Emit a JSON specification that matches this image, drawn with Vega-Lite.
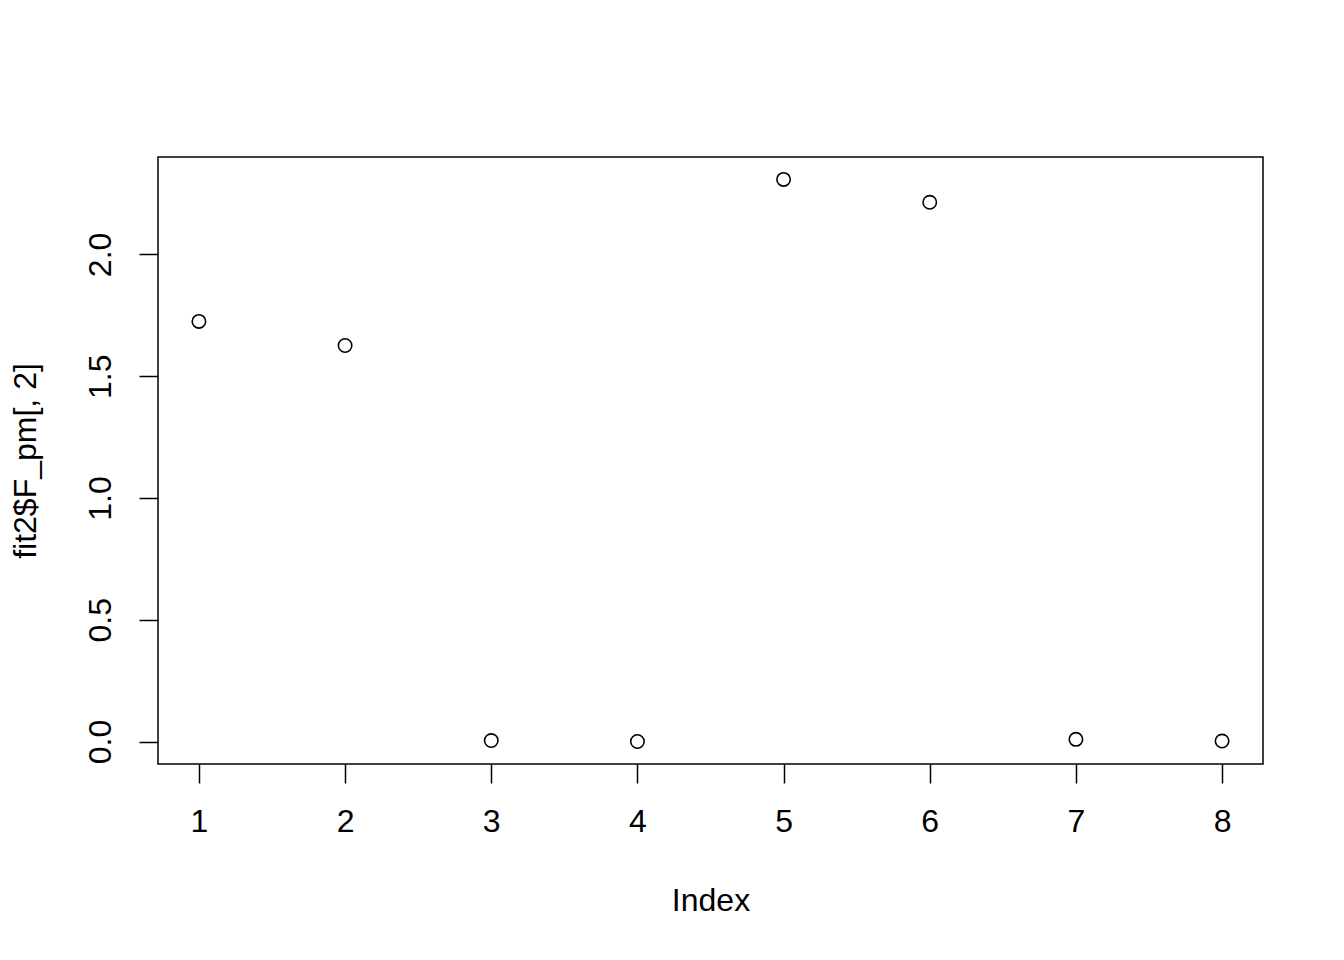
{
  "$schema": "https://vega.github.io/schema/vega-lite/v6.json",
  "width": 1105,
  "height": 607,
  "autosize": {"type": "none"},
  "padding": {"left": 158, "top": 157, "right": 81, "bottom": 196},
  "background": "white",
  "config": {
    "view": {"stroke": "black", "strokeWidth": 1.5},
    "font": "Liberation Sans",
    "axis": {
      "domain": false,
      "grid": false,
      "tickColor": "black",
      "tickWidth": 1.5,
      "tickSize": 19,
      "labelColor": "black",
      "titleColor": "black",
      "labelFontSize": 32,
      "titleFontSize": 32,
      "labelFont": "Liberation Sans",
      "titleFont": "Liberation Sans",
      "titleFontWeight": "normal"
    }
  },
  "data": {
    "values": [
      {"index": 1, "value": 1.725},
      {"index": 2, "value": 1.626},
      {"index": 3, "value": 0.004},
      {"index": 4, "value": 0.0},
      {"index": 5, "value": 2.308},
      {"index": 6, "value": 2.214},
      {"index": 7, "value": 0.009},
      {"index": 8, "value": 0.002}
    ]
  },
  "mark": {"type": "point", "shape": "circle", "filled": false, "stroke": "black", "strokeWidth": 1.6, "size": 180, "opacity": 1},
  "encoding": {
    "x": {
      "field": "index",
      "type": "quantitative",
      "scale": {"domain": [0.72, 8.28], "nice": false, "zero": false},
      "axis": {"values": [1, 2, 3, 4, 5, 6, 7, 8], "format": "d", "labelPadding": 23, "title": "Index", "titleY": 136, "titleBaseline": "middle", "labelFlush": false}
    },
    "y": {
      "field": "value",
      "type": "quantitative",
      "scale": {"domain": [-0.0923, 2.4], "nice": false, "zero": false},
      "axis": {"values": [0, 0.5, 1, 1.5, 2], "format": ".1f", "labelAngle": -90, "labelAlign": "center", "labelBaseline": "bottom", "labelPadding": 22, "title": "fit2$F_pm[, 2]", "titleX": -133, "titleBaseline": "middle", "titleAngle": -90, "labelFlush": false}
    }
  }
}
